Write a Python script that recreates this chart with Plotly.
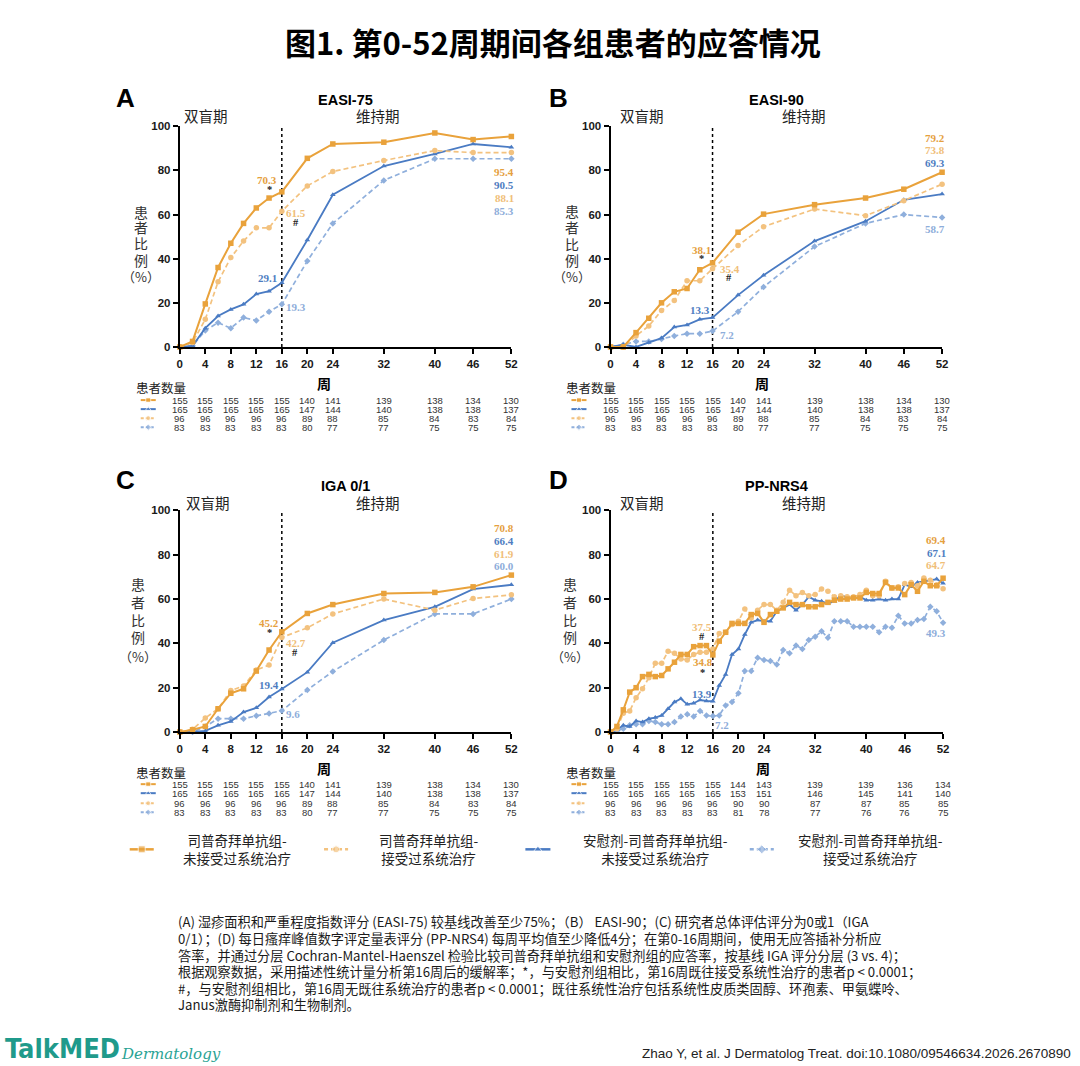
import plotly.graph_objects as go

W, H = 1080, 1066
# calibration of the photographed page against the reference frame
SX, OX = 0.99, 4.5
SY, OY = 0.986, 7.0

# ---------------- data ----------------
WEEKS = [0, 2, 4, 6, 8, 10, 12, 14, 16, 20, 24, 32, 40, 46, 52]
WEEKS_D = list(range(0, 53))
TICK_WEEKS = [0, 4, 8, 12, 16, 20, 24, 32, 40, 46, 52]
Y_TICKS = [0, 20, 40, 60, 80, 100]

SERIES_NAMES = ["司普奇拜单抗组-<br>未接受过系统治疗", "司普奇拜单抗组-<br>接受过系统治疗",
                "安慰剂-司普奇拜单抗组-<br>未接受过系统治疗", "安慰剂-司普奇拜单抗组-<br>接受过系统治疗"]

# A: EASI-75
A_SOL_NAIVE = [0, 2.5, 19.5, 36, 47, 56, 63, 67.5, 70.3, 85.5, 92, 92.8, 97, 94, 95.4]
A_SOL_PRIOR = [0, 2, 12.5, 29.5, 40.5, 48, 54, 54, 61.5, 73, 79.5, 84.5, 89, 88.1, 88.1]
A_PBO_NAIVE = [0, 0.5, 8.5, 14, 17, 19.3, 24, 25.3, 29.1, 48.5, 69, 82, 87.5, 92, 90.5]
A_PBO_PRIOR = [0, 0.5, 7.5, 11, 8.5, 13.3, 12, 16, 19.3, 39, 56, 75.5, 85.3, 85.3, 85.3]

# B: EASI-90
B_SOL_NAIVE = [0, 0, 6.5, 13, 20, 25, 26.5, 35, 38.1, 52, 60.2, 64.5, 67.5, 71.5, 79.2]
B_SOL_PRIOR = [0, 0, 5, 9.5, 16.5, 21, 30, 30, 35.4, 46, 54.5, 62.5, 59.5, 66.3, 73.8]
B_PBO_NAIVE = [0, 1, 0, 2, 4, 9, 10, 12.5, 13.3, 23.5, 32.5, 48, 57, 66.7, 69.3]
B_PBO_PRIOR = [0, 1, 2.5, 2.5, 3.6, 5, 6, 6, 7.2, 16, 27.2, 45.5, 56, 60, 58.7]

# C: IGA 0/1
C_SOL_NAIVE = [0, 1, 2.5, 10.5, 17.5, 19.5, 27.5, 37, 45.2, 53.5, 57.5, 62.5, 63, 65.5, 70.8]
C_SOL_PRIOR = [0, 1.2, 6.3, 10.5, 18.7, 20.8, 28, 30.2, 42.7, 47, 53.3, 60, 55, 60.2, 61.9]
C_PBO_NAIVE = [0, 0, 0.5, 3, 4.8, 9, 10.9, 15.8, 19.4, 27, 40.3, 50.5, 56.5, 64.5, 66.4]
C_PBO_PRIOR = [0, 0, 2.5, 6, 6, 6, 7.3, 8.4, 9.6, 19, 27.3, 41.5, 53.3, 53.3, 60.0]

# D: PP-NRS4 (weekly)
D_SOL_NAIVE = [0, 2.5, 10, 18, 20, 25, 26, 25, 25.5, 28.5, 31.5, 35, 35, 38.5, 39, 39, 34.8,
               41, 45, 49, 49, 49, 53, 53.5, 49.5, 53, 54.5, 56, 58.5, 57.5, 57.5, 56.5, 56.5,
               57.5, 58.5, 59.5, 60, 60, 60.5, 60.5, 63, 62.5, 62.5, 67.5, 65, 65, 62, 66.5,
               63.5, 68, 66, 66, 69.4]
D_SOL_PRIOR = [0, 1.5, 8.5, 9.5, 15.5, 19.5, 24.5, 31, 31, 36.5, 35.5, 33, 32.5, 35, 36, 36, 37.5,
               44.5, 45, 48.5, 50, 55.5, 51.5, 55, 57.5, 57.5, 55, 58.5, 64, 61.5, 63, 61.5, 62,
               64.5, 63.5, 61, 61.5, 61, 61, 62, 64, 61.5, 61.5, 68, 65, 65.5, 67, 67.5, 66,
               69.5, 68.5, 66.5, 64.7]
D_PBO_NAIVE = [0, 1, 3, 2.5, 5, 4.5, 6, 6.5, 7.5, 10.5, 13.5, 15, 12.5, 13, 14.5, 14, 13.9,
               21, 26, 35, 37.5, 44, 49.5, 50.5, 50, 50, 54.5, 56, 57.5, 55, 57.5, 61, 59.5,
               59, 58, 59, 61.5, 61, 60.5, 61, 59.5, 59.5, 60, 59.5, 60, 60, 66.5, 65.5, 67.5,
               68, 68.5, 69, 67.1]
D_PBO_PRIOR = [0, 0.5, 1.5, 3, 3.5, 3.5, 5, 4.5, 3.5, 3.5, 4.5, 7, 8, 7, 9.5, 7.5, 7.2,
               7.5, 12, 13.5, 17.5, 27.5, 27.5, 33.5, 32.5, 32, 30.5, 37, 35.5, 39, 37.5, 41.5,
               43, 45.5, 42.5, 50, 50, 50, 47.5, 47.5, 47.5, 47.5, 45, 47.5, 47, 52.5, 49, 49,
               50.5, 51, 56.5, 54.5, 49.3]

# patient numbers (rows: sol naive, pbo naive, sol prior, pbo prior)
N_SOL_NAIVE_ABC = [155, 155, 155, 155, 155, 140, 141, 139, 138, 134, 130]
N_PBO_NAIVE_ABC = [165, 165, 165, 165, 165, 147, 144, 140, 138, 138, 137]
N_SOL_PRIOR_ABC = [96, 96, 96, 96, 96, 89, 88, 85, 84, 83, 84]
N_PBO_PRIOR_ABC = [83, 83, 83, 83, 83, 80, 77, 77, 75, 75, 75]
N_SOL_NAIVE_D = [155, 155, 155, 155, 155, 144, 143, 139, 139, 136, 134]
N_PBO_NAIVE_D = [165, 165, 165, 165, 165, 153, 151, 146, 145, 141, 140]
N_SOL_PRIOR_D = [96, 96, 96, 96, 96, 90, 90, 87, 87, 85, 85]
N_PBO_PRIOR_D = [83, 83, 83, 83, 83, 81, 78, 77, 76, 76, 75]

# ---------------- styles ----------------
CJK = "Noto Sans CJK SC"
SANS = "Liberation Sans, Arial"
SERIF = "Liberation Serif, Times New Roman"

STY = [
    dict(color="#E9A23B", dash="solid", symbol="square", size=5.5, width=2.0),
    dict(color="#F3C27F", dash="5px,3px", symbol="circle", size=5.5, width=1.7),
    dict(color="#4A7BC3", dash="solid", symbol="triangle-up", size=5, width=1.8),
    dict(color="#8FAFDC", dash="5px,3px", symbol="diamond", size=5, width=1.7),
]
LBL = ["#E5A03E", "#F0BE78", "#4E7DC1", "#8EADDA"]


def px(x):
    return ((x - OX) / SX) / W


def py(y):
    return 1 - ((y - OY) / SY) / H


fig = go.Figure()
annotations = []


def ann(x, y, text, size=13, family=CJK, color="#222", weight="normal", xanchor="center",
        yanchor="middle", xref="paper", yref="paper", align="center", style="normal", xshift=0):
    annotations.append(dict(x=x, y=y, text=text, xref=xref, yref=yref, showarrow=False,
                            xanchor=xanchor, yanchor=yanchor, align=align, xshift=xshift,
                            font=dict(size=size, family=family, color=color, weight=weight,
                                      style=style)))


panels = [
    dict(key="", letter="A", title="EASI-75", x0=181, x1=512, ytop=127, ybot=347,
         weeks=WEEKS, series=[A_SOL_NAIVE, A_SOL_PRIOR, A_PBO_NAIVE, A_PBO_PRIOR],
         ns=[N_SOL_NAIVE_ABC, N_PBO_NAIVE_ABC, N_SOL_PRIOR_ABC, N_PBO_PRIOR_ABC],
         letter_xy=(127, 99), title_y=101, phase_y=116, phase_x=(207, 379),
         ych_x=142, ych_y=[212, 227, 243, 260, 277],
         tbl_title_y=387, zhou=(325, 383), rows=[400, 409, 418, 427], glyph_x=(142, 157), tbl_x=135,
         labels=[(13.7, 75.9, "70.3", 0), (14.1, 71.4, "*", -1), (18.2, 60.5, "61.5", 1),
                 (18.2, 56.4, "#", -1), (13.8, 31.4, "29.1", 2), (18.2, 18.2, "19.3", 3)],
         right=[(79.1, "95.4", 0), (73.2, "90.5", 2), (67.7, "88.1", 1), (61.8, "85.3", 3)]),
    dict(key="2", letter="B", title="EASI-90", x0=611, x1=942, ytop=127, ybot=347,
         weeks=WEEKS, series=[B_SOL_NAIVE, B_SOL_PRIOR, B_PBO_NAIVE, B_PBO_PRIOR],
         ns=[N_SOL_NAIVE_ABC, N_PBO_NAIVE_ABC, N_SOL_PRIOR_ABC, N_PBO_PRIOR_ABC],
         letter_xy=(559, 99), title_y=101, phase_y=116, phase_x=(642, 804),
         ych_x=573, ych_y=[211, 227, 244, 260, 277],
         tbl_title_y=387, zhou=(762, 383), rows=[400, 409, 418, 427], glyph_x=(572, 587), tbl_x=565,
         labels=[(14.2, 43.8, "38.1", 0), (14.2, 40.0, "*", -1), (18.7, 35.3, "35.4", 1),
                 (18.6, 31.7, "#", -1), (14.1, 16.8, "13.3", 2), (18.3, 5.5, "7.2", 3)],
         right=[(94.9, "79.2", 0), (89.1, "73.8", 1), (83.5, "69.3", 2), (53.5, "58.7", 3)]),
    dict(key="3", letter="C", title="IGA 0/1", x0=181, x1=512, ytop=510, ybot=731,
         weeks=WEEKS, series=[C_SOL_NAIVE, C_SOL_PRIOR, C_PBO_NAIVE, C_PBO_PRIOR],
         ns=[N_SOL_NAIVE_ABC, N_PBO_NAIVE_ABC, N_SOL_PRIOR_ABC, N_PBO_PRIOR_ABC],
         letter_xy=(127, 480), title_y=486, phase_y=502, phase_x=(209, 379),
         ych_x=139, ych_y=[583, 601, 619, 636, 656],
         tbl_title_y=771, zhou=(325, 767), rows=[783, 792, 802, 811], glyph_x=(142, 157), tbl_x=135,
         labels=[(14.0, 49.3, "45.2", 0), (14.0, 44.9, "*", -1), (18.2, 40.3, "42.7", 1),
                 (18.1, 36.0, "#", -1), (14.0, 21.0, "19.4", 2), (17.8, 8.3, "9.6", 3)],
         right=[(92.1, "70.8", 0), (86.1, "66.4", 2), (80.3, "61.9", 1), (74.8, "60.0", 3)]),
    dict(key="4", letter="D", title="PP-NRS4", x0=611, x1=943, ytop=510, ybot=731,
         weeks=WEEKS_D, series=[D_SOL_NAIVE, D_SOL_PRIOR, D_PBO_NAIVE, D_PBO_PRIOR],
         ns=[N_SOL_NAIVE_D, N_PBO_NAIVE_D, N_SOL_PRIOR_D, N_PBO_PRIOR_D],
         letter_xy=(559, 480), title_y=486, phase_y=502, phase_x=(642, 804),
         ych_x=571, ych_y=[583, 601, 619, 636, 656],
         tbl_title_y=771, zhou=(763, 767), rows=[783, 792, 802, 811], glyph_x=(572, 587), tbl_x=565,
         labels=[(14.3, 47.3, "37.5", 1), (14.3, 42.9, "#", -1), (14.4, 31.5, "34.8", 0),
                 (14.4, 27.0, "*", -1), (14.3, 17.2, "13.9", 2), (17.5, 3.3, "7.2", 3)],
         right=[(86.6, "69.4", 0), (80.6, "67.1", 2), (75.2, "64.7", 1), (44.7, "49.3", 3)]),
]

GX, GY = "x5", "y5"  # full-page pixel overlay for legend glyphs

layout_axes = {}
for p in panels:
    k = p["key"]
    xa, ya = "x" + k, "y" + k
    layout_axes["xaxis" + k] = dict(
        domain=[px(p["x0"]), px(p["x1"])], anchor=ya, range=[0, 52], tickvals=TICK_WEEKS,
        showline=True, linecolor="black", linewidth=2, ticks="outside", ticklen=5, tickwidth=1.5,
        tickcolor="black", showgrid=False, zeroline=False,
        tickfont=dict(family=SANS, size=11.5, color="#1a1a1a", weight="bold"))
    layout_axes["yaxis" + k] = dict(
        domain=[py(p["ybot"]), py(p["ytop"])], anchor=xa, range=[0, 100], tickvals=Y_TICKS,
        showline=True, linecolor="black", linewidth=2, ticks="outside", ticklen=5, tickwidth=1.5,
        tickcolor="black", showgrid=False, zeroline=False,
        tickfont=dict(family=SANS, size=11.5, color="#1a1a1a", weight="bold"))

    # dotted divider at week 16
    fig.add_trace(go.Scatter(x=[16, 16], y=[0, 100], xaxis=xa, yaxis=ya, mode="lines",
                             line=dict(color="black", width=1.5, dash="dot"),
                             hoverinfo="skip", showlegend=False))
    for i in [3, 2, 1, 0]:
        s = STY[i]
        fig.add_trace(go.Scatter(
            x=p["weeks"], y=p["series"][i], xaxis=xa, yaxis=ya, mode="lines+markers",
            name=SERIES_NAMES[i].replace("<br>", ""), cliponaxis=False,
            line=dict(color=s["color"], width=s["width"], dash=s["dash"]),
            marker=dict(symbol=s["symbol"], size=s["size"], color=s["color"]),
            showlegend=False))

    # headings
    ann(px(p["letter_xy"][0]), py(p["letter_xy"][1]), p["letter"], size=26, family=SANS,
        color="black", weight="bold")
    ann(px((p["x0"] + p["x1"]) / 2), py(p["title_y"]), p["title"], size=14.5, family=SANS,
        color="black", weight="bold")
    ann(px(p["phase_x"][0]), py(p["phase_y"]), "双盲期", size=14.5, color="#222")
    ann(px(p["phase_x"][1]), py(p["phase_y"]), "维持期", size=14.5, color="#222")
    for ch, yy in zip(["患", "者", "比", "例", "（%）"], p["ych_y"]):
        ann(px(p["ych_x"]), py(yy), ch, size=14 if ch != "（%）" else 13, color="#333")

    # value labels
    for (lx, ly, t, ci) in p["labels"]:
        col = "#222" if ci < 0 else LBL[ci]
        ann(lx, ly, t, size=11 if ci >= 0 else 10.5, family=SERIF, color=col, weight="bold",
            xref=xa, yref=ya)
    for (ly, t, ci) in p["right"]:
        ann(52, ly, t, size=11, family=SERIF, color=LBL[ci], weight="bold",
            xref=xa, yref=ya, xanchor="right", xshift=5)

    # x-axis title and number-at-risk table
    ann(px(p["zhou"][0]), py(p["zhou"][1]), "周", size=14, color="black", weight="bold")
    ann(px(p["tbl_x"]), py(p["tbl_title_y"]), "患者数量", size=12.5, color="#222", xanchor="left")
    row_style = [0, 2, 1, 3]
    for r, (ry, nrow) in enumerate(zip(p["rows"], p["ns"])):
        s = STY[row_style[r]]
        g0, g1 = p["glyph_x"]
        fig.add_trace(go.Scatter(
            x=[g0, (g0 + g1) / 2, g1], y=[ry, ry, ry], xaxis=GX, yaxis=GY, mode="lines+markers",
            line=dict(color=s["color"], width=2, dash="solid" if s["dash"] == "solid" else "3px,2px"),
            marker=dict(symbol=s["symbol"], size=[0, 5, 0], color=s["color"]),
            hoverinfo="skip", showlegend=False))
        for wk, n in zip(TICK_WEEKS, nrow):
            ann(wk, py(ry), str(n), size=9.5, family=SANS, color="#333", xref=xa)

# bottom legend
LEG_GLYPH = [(131, 155), (325, 349), (526, 551), (750, 774)]
LEG_TEXT_X = [238, 430, 656, 871]
for i in range(4):
    s = STY[i]
    g0, g1 = LEG_GLYPH[i]
    fig.add_trace(go.Scatter(
        x=[g0, (g0 + g1) / 2, g1], y=[848, 848, 848], xaxis=GX, yaxis=GY, mode="lines+markers",
        line=dict(color=s["color"], width=2.5, dash="solid" if s["dash"] == "solid" else "4px,3px"),
        marker=dict(symbol=s["symbol"], size=[0, 7, 0], color=s["color"]),
        hoverinfo="skip", showlegend=False))
    ann(px(LEG_TEXT_X[i]), py(848), SERIES_NAMES[i], size=13.5, color="#222")

# main title
ann(px(554), py(42), "图1. 第0-52周期间各组患者的应答情况", size=31, color="black", weight="bold")

# footnote
NOTE = [
    "(A) 湿疹面积和严重程度指数评分 (EASI-75) 较基线改善至少75%；（B） EASI-90；(C) 研究者总体评估评分为0或1（IGA",
    "0/1）；(D) 每日瘙痒峰值数字评定量表评分 (PP-NRS4) 每周平均值至少降低4分；在第0-16周期间，使用无应答插补分析应",
    "答率，并通过分层 Cochran-Mantel-Haenszel 检验比较司普奇拜单抗组和安慰剂组的应答率，按基线 IGA 评分分层 (3 vs. 4)；",
    "根据观察数据，采用描述性统计量分析第16周后的缓解率；*，与安慰剂组相比，第16周既往接受系统性治疗的患者p < 0.0001；",
    "#，与安慰剂组相比，第16周无既往系统治疗的患者p < 0.0001；既往系统性治疗包括系统性皮质类固醇、环孢素、甲氨蝶呤、",
    "Janus激酶抑制剂和生物制剂。",
]
NOTE_Y = [920, 937, 953.5, 970, 986.5, 1003]
for line, yy in zip(NOTE, NOTE_Y):
    ann(px(177), py(yy), line, size=13.2, color="#1a1a1a", xanchor="left")

# footer
ann(0.0, py(1047), "TalkMED", size=27, family="DejaVu Sans Condensed, Liberation Sans",
    color="#1F9A8B", weight="bold", xanchor="left")
ann(px(120), py(1052), "Dermatology", size=15, family="DejaVu Serif", color="#2AA394",
    xanchor="left", style="italic")
ann(min(px(1075), 0.999), py(1052),
    "Zhao Y, et al. J Dermatolog Treat. doi:10.1080/09546634.2026.2670890",
    size=13.5, family=SANS, color="#222", xanchor="right")

fig.update_layout(
    width=W, height=H, margin=dict(l=0, r=0, t=0, b=0),
    paper_bgcolor="white", plot_bgcolor="rgba(0,0,0,0)", showlegend=False,
    annotations=annotations,
    xaxis5=dict(domain=[0, 1], range=[OX, OX + SX * W], anchor="y5", visible=False, fixedrange=True),
    yaxis5=dict(domain=[0, 1], range=[OY + SY * H, OY], anchor="x5", visible=False, fixedrange=True),
    **layout_axes,
)

fig.write_html("out.html", config={"displayModeBar": False},
               post_script="document.body.style.margin='0';")
